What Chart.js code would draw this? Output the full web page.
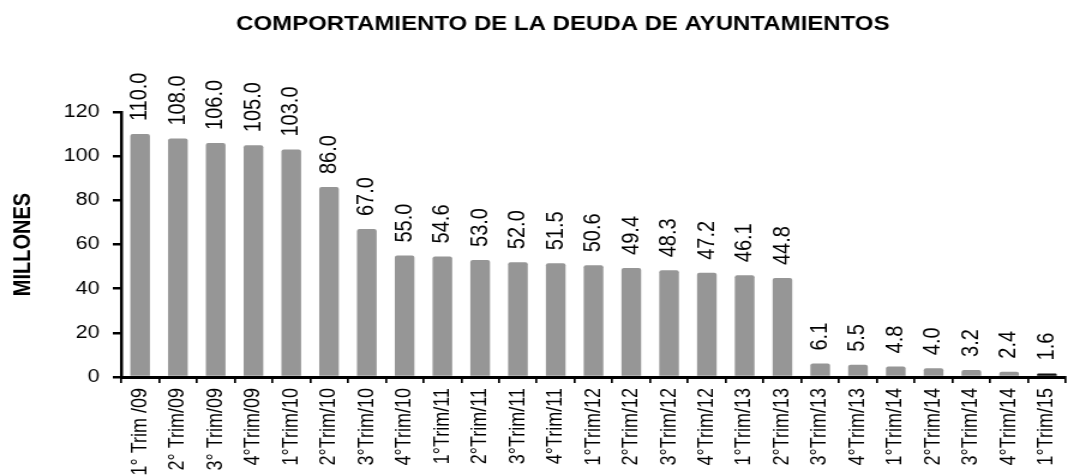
<!DOCTYPE html>
<html>
<head>
<meta charset="utf-8">
<script src="https://cdn.jsdelivr.net/npm/chart.js@4/dist/chart.umd.min.js"></script>
<style>
  html, body { margin: 0; padding: 0; background: #fff; overflow: hidden; }
  /* the original picture is stretched sideways, so the chart is drawn narrower and scaled */
  #wrap { width: 899px; height: 475px; transform: scaleX(1.2); transform-origin: 0 0; }
</style>
</head>
<body>
<div id="wrap"><canvas id="chart-deuda" width="899" height="475"></canvas></div>
<script>
// Deuda de ayuntamientos por trimestre (millones)
const trimestres = ['1° Trim /09', '2° Trim/09', '3° Trim/09', '4°Trim/09',
  '1°Trim/10', '2°Trim/10', '3°Trim/10', '4°Trim/10',
  '1°Trim/11', '2°Trim/11', '3°Trim/11', '4°Trim/11',
  '1°Trim/12', '2°Trim/12', '3°Trim/12', '4°Trim/12',
  '1°Trim/13', '2°Trim/13', '3°Trim/13', '4°Trim/13',
  '1°Trim/14', '2°Trim/14', '3°Trim/14', '4°Trim/14',
  '1°Trim/15'];
const deuda = [110.0, 108.0, 106.0, 105.0, 103.0, 86.0, 67.0, 55.0, 54.6, 53.0, 52.0, 51.5,
  50.6, 49.4, 48.3, 47.2, 46.1, 44.8, 6.1, 5.5, 4.8, 4.0, 3.2, 2.4, 1.6];
const yTicks = [0, 20, 40, 60, 80, 100, 120];

const FONT = "'Liberation Sans', Arial, sans-serif";
const barColors = deuda.map((v, i) => i === deuda.length - 1 ? '#111111' : '#969696');

// value labels rotated above each bar
const valueLabels = {
  id: 'valueLabels',
  afterDatasetsDraw(chart) {
    const ctx = chart.ctx;
    const meta = chart.getDatasetMeta(0);
    ctx.save();
    ctx.font = '20px ' + FONT;
    ctx.fillStyle = '#000';
    ctx.textAlign = 'left';
    ctx.textBaseline = 'middle';
    meta.data.forEach((bar, i) => {
      ctx.save();
      ctx.translate(bar.x, bar.y - 13);
      ctx.rotate(-Math.PI / 2);
      ctx.fillText(deuda[i].toFixed(1), 0, 0);
      ctx.restore();
    });
    ctx.restore();
  }
};

const titulo = {
  id: 'titulo',
  afterDraw(chart) {
    const ctx = chart.ctx;
    ctx.save();
    ctx.font = 'bold 20px ' + FONT;
    ctx.fillStyle = '#000';
    ctx.textAlign = 'center';
    ctx.textBaseline = 'middle';
    ctx.fillText('COMPORTAMIENTO DE LA DEUDA DE AYUNTAMIENTOS', 469, 24);
    ctx.restore();
  }
};

new Chart(document.getElementById('chart-deuda'), {
  type: 'bar',
  data: {
    labels: trimestres,
    datasets: [{
      data: deuda,
      backgroundColor: barColors,
      borderWidth: 0,
      borderRadius: { topLeft: 2, topRight: 2 },
      categoryPercentage: 1,
      barPercentage: 0.52
    }]
  },
  options: {
    responsive: false,
    animation: false,
    layout: { padding: { top: 112, right: 0, bottom: 0, left: 0 } },
    plugins: { legend: { display: false }, tooltip: { enabled: false }, title: { display: false } },
    scales: {
      x: {
        grid: { display: true, drawOnChartArea: false, color: '#000', lineWidth: 1.7, tickLength: 6 },
        border: { display: true, color: '#000', width: 3 },
        ticks: { color: '#000', font: { family: FONT, size: 18 }, minRotation: 90, maxRotation: 90, padding: 5, autoSkip: false },
        afterFit: (scale) => { scale.height = 98; }
      },
      y: {
        min: 0,
        max: 120,
        afterBuildTicks: (scale) => { scale.ticks = yTicks.map(v => ({ value: v })); },
        grid: { display: true, drawOnChartArea: false, color: '#000', lineWidth: 2.5, tickLength: 7 },
        border: { display: true, color: '#000', width: 2.5 },
        ticks: { color: '#000', font: { family: FONT, size: 18 }, padding: 11 },
        title: { display: true, text: 'MILLONES', color: '#000', font: { family: FONT, size: 20, weight: 'bold' }, padding: { top: 7, bottom: 0 } },
        afterFit: (scale) => { scale.width = 101; }
      }
    }
  },
  plugins: [valueLabels, titulo]
});
</script>
</body>
</html>
